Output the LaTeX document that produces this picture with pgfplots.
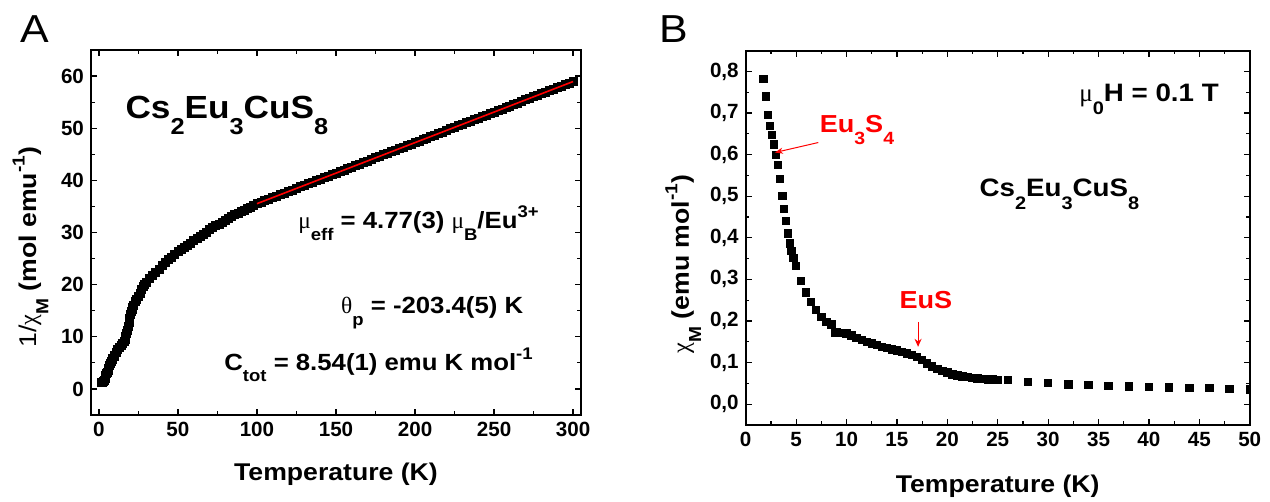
\documentclass[border=0pt]{standalone}
\usepackage{fontspec}
\setmainfont{Liberation Sans}
\newfontfamily\wide{Liberation Sans}[FakeStretch=1.1]
\newfontfamily\greek{Liberation Serif}
\usepackage{graphicx}
\usepackage{pgfplots}
\pgfplotsset{compat=1.18}
\usetikzlibrary{arrows.meta}

\newcommand{\gr}[1]{{\greek\mdseries #1}}
\newcommand{\sub}[1]{\raisebox{-0.95ex}{\scalebox{0.72}{#1}}}
\newcommand{\sups}[1]{\raisebox{0.9ex}{\scalebox{0.72}{#1}}}

\pgfplotsset{
  panel/.style={
    scale only axis,
    axis line style={line width=0.9pt},
    every tick/.append style={black, line width=0.6pt},
    major tick length=3pt, minor tick length=1.8pt,
    tick align=inside,
    tick label style={font=\bfseries\fontsize{10.3}{12}\selectfont},
    /pgf/number format/assume math mode=true,
    label style={font=\wide\bfseries\fontsize{12.1}{14}\selectfont},
    clip marker paths=true,
  },
  pts/.style={only marks, mark=square*, mark size=1.85pt, black},
}
\tikzset{ann/.style={anchor=base west, font=\wide\bfseries\fontsize{#1}{14}\selectfont}}

\begin{document}
\begin{tikzpicture}
\useasboundingbox (0,0) rectangle (635pt,251pt);

% panel A: inverse susceptibility
\begin{axis}[panel, at={(45.5pt,43.5pt)}, anchor=south west,
  width=245pt, height=182.5pt,
  xmin=-5, xmax=305, ymin=-5, ymax=65,
  xtick={0,50,...,300}, ytick={0,10,...,60},
  minor x tick num=1, minor y tick num=1,
  xlabel={Temperature (K)},
  ylabel={{\mdseries 1/}\gr{χ}\sub{M} (mol emu\sups{-1})},
  xlabel style={at={(axis description cs:0.5,0)}, anchor=base, yshift=-32.8pt},
  ylabel style={at={(axis description cs:-0.1235,0.46)}, anchor=center}]
\addplot[pts, mark size=2pt] coordinates {
(1.8,1.3)(2.3,1.3)(2.8,1.4)(3.3,1.6)(3.8,2.0)(4.3,2.5)(4.8,2.9)(5.3,3.2)
(5.8,3.5)(6.3,4.0)(6.8,4.5)(7.3,4.9)(7.8,5.3)(8.3,5.6)(8.8,5.8)(9.5,6.2)
(10,6.5)(11,7.0)(12,7.5)(13,8.0)(14,8.4)(15,8.8)(16,9.2)(16.5,9.5)
(17,10.0)(17.5,10.6)(18,11.2)(18.5,11.9)(19,12.7)(19.5,13.5)(20,14.2)
(20.5,14.8)(21,15.3)(21.5,15.7)(22,16.1)(23,16.7)(24,17.2)(25,17.8)
(26,18.4)(27,19.0)(28,19.6)(29,20.0)(30,20.4)(32,21.2)(34,21.8)
(36,22.4)(38,23.0)(40,23.6)(42,24.2)(44,24.8)(46,25.3)(48,25.8)
(50,26.3)(52,26.7)(54,27.1)(56,27.6)(58,28.0)(60,28.5)(62,28.9)
(64,29.3)(66,29.7)(68,30.1)(70,30.5)(72,30.9)(74,31.3)(76,31.6)
(78,32.0)(80,32.3)(82,32.7)(84,33.0)(86,33.4)(88,33.7)(90,34.0)
(92,34.3)(94,34.6)(96,34.9)(98,35.2)
(100,35.53)(102.5,35.82)(105,36.11)(107.5,36.41)(110,36.70)(112.5,36.99)
(115,37.28)(117.5,37.58)(120,37.87)(122.5,38.16)(125,38.46)(127.5,38.75)
(130,39.04)(132.5,39.33)(135,39.63)(137.5,39.92)(140,40.21)(142.5,40.50)
(145,40.80)(147.5,41.09)(150,41.38)(152.5,41.67)(155,41.97)(157.5,42.26)
(160,42.55)(162.5,42.84)(165,43.14)(167.5,43.43)(170,43.72)(172.5,44.02)
(175,44.31)(177.5,44.60)(180,44.89)(182.5,45.19)(185,45.48)(187.5,45.77)
(190,46.07)(192.5,46.36)(195,46.65)(197.5,46.94)(200,47.24)(202.5,47.53)
(205,47.82)(207.5,48.11)(210,48.41)(212.5,48.70)(215,48.99)(217.5,49.28)
(220,49.58)(222.5,49.87)(225,50.16)(227.5,50.46)(230,50.75)(232.5,51.04)
(235,51.33)(237.5,51.63)(240,51.92)(242.5,52.21)(245,52.50)(247.5,52.80)
(250,53.09)(252.5,53.38)(255,53.68)(257.5,53.97)(260,54.26)(262.5,54.55)
(265,54.85)(267.5,55.14)(270,55.43)(272.5,55.72)(275,56.02)(277.5,56.31)
(280,56.60)(282.5,56.89)(285,57.19)(287.5,57.48)(290,57.77)(292.5,58.07)
(295,58.36)(297.5,58.65)(300,58.95)};
% Curie-Weiss fit
\addplot[red, line width=0.8pt] coordinates {(100,35.53)(300,58.95)};
\node[ann=16] at (axis cs:12.4,51.8) {Cs\sub{2}Eu\sub{3}CuS\sub{8}};
\node[ann=11.7] at (axis cs:121.7,30.7) {\gr{μ}\sub{eff} = 4.77(3) \gr{μ}\sub{B}/Eu\sups{3+}};
\node[ann=11.7] at (axis cs:148.8,14.45) {\gr{θ}\sub{p} = -203.4(5) K};
\node[ann=11.7] at (axis cs:74.9,3.6) {C\sub{tot} = 8.54(1) emu K mol\sups{-1}};
\end{axis}

% panel B: susceptibility at low T
\begin{axis}[panel, at={(372.85pt,38.5pt)}, anchor=south west,
  width=252pt, height=187.2pt,
  xmin=0, xmax=50, ymin=-0.05, ymax=0.85,
  xtick={0,5,...,50}, ytick={0,0.1,0.2,0.3,0.4,0.5,0.6,0.7,0.8},
  minor x tick num=1, minor y tick num=1,
  yticklabel style={/pgf/number format/.cd, fixed, fixed zerofill, precision=1, use comma},
  xlabel={Temperature (K)},
  ylabel={\gr{χ}\sub{M} (emu mol\sups{-1})},
  xlabel style={at={(axis description cs:0.5,0)}, anchor=base, yshift=-33.8pt},
  ylabel style={at={(axis description cs:-0.124,0.43)}, anchor=center}]
\addplot[pts] coordinates {
(1.75,0.782)(1.98,0.740)(2.21,0.695)(2.41,0.669)(2.57,0.648)(2.77,0.625)
(2.97,0.600)(3.17,0.575)(3.40,0.541)(3.63,0.501)(3.79,0.469)(3.99,0.441)
(4.16,0.411)(4.39,0.387)(4.52,0.369)(4.72,0.351)(4.95,0.332)(5.45,0.297)
(5.98,0.269)(6.47,0.246)(6.94,0.226)(7.5,0.210)(8.0,0.198)(8.5,0.192)
(8.9,0.173)
(9.0,0.173)(9.5,0.172)(10.0,0.170)(10.5,0.165)(11.0,0.160)(11.5,0.155)
(12.0,0.150)(12.5,0.146)(13.0,0.142)(13.5,0.138)(14.0,0.135)(14.5,0.132)
(15.0,0.129)(15.5,0.126)(16.0,0.122)(16.5,0.118)(17.0,0.113)(17.5,0.106)
(18.0,0.098)(18.5,0.091)(19.0,0.085)(19.5,0.080)(20.0,0.076)(20.5,0.072)
(21.0,0.069)(21.5,0.067)(22.0,0.065)(22.5,0.063)(23.0,0.062)(23.5,0.061)
(24.0,0.060)(24.5,0.0595)(25.0,0.059)
(26,0.058)(28,0.054)(30,0.051)(32,0.048)(34,0.046)(36,0.044)(38,0.043)
(40,0.042)(42,0.040)(44,0.039)(46,0.0385)(48,0.037)(50,0.036)};
\node[ann=12.6] at (axis cs:32.4,0.728) {\gr{μ}\sub{0}H = 0.1 T};
\node[ann=12.6] at (axis cs:22.5,0.499) {Cs\sub{2}Eu\sub{3}CuS\sub{8}};
\node[ann=12.3, red] at (axis cs:6.65,0.653) {Eu\sub{3}S\sub{4}};
\node[ann=12.3, red] at (axis cs:14.57,0.230) {EuS};
\draw[red, line width=0.5pt, -{Stealth[length=4pt, width=3pt]}] (axis cs:7.2,0.629) -- (axis cs:2.9,0.605);
\draw[red, line width=0.5pt, -{Stealth[length=4pt, width=3.5pt]}] (axis cs:17.1,0.198) -- (axis cs:17.1,0.138);
\end{axis}

\node[font=\wide\fontsize{19.5}{20}\selectfont] at (17.5pt,236.5pt) {A};
\node[font=\wide\fontsize{19.5}{20}\selectfont] at (337pt,236.25pt) {B};
\end{tikzpicture}
\end{document}
